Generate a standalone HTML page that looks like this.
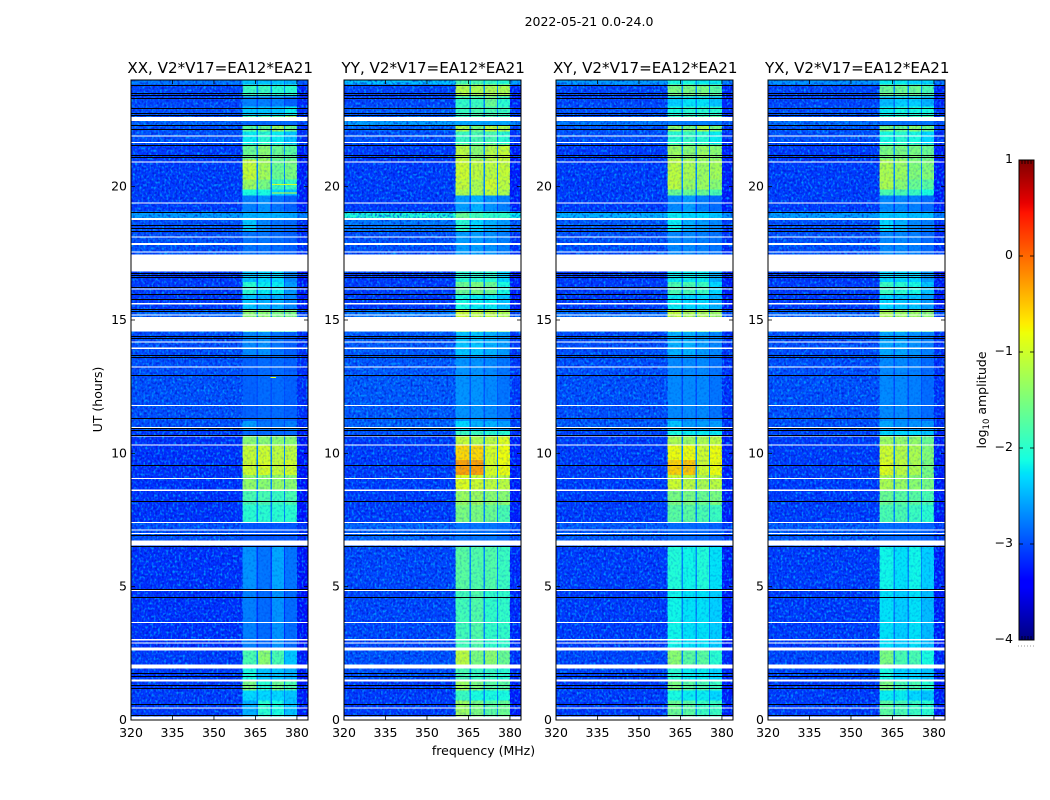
<!DOCTYPE html>
<html lang="en">
<head>
<meta charset="utf-8">
<title>2022-05-21 0.0-24.0</title>
<style>
html,body{margin:0;padding:0;background:#fff;width:1050px;height:800px;overflow:hidden}
svg{display:block}
text{font-family:"DejaVu Sans","Liberation Sans",sans-serif;fill:#000}
</style>
</head>
<body>
<svg id="figure" xmlns="http://www.w3.org/2000/svg" width="1050" height="800" viewBox="0 0 1050 800">
  <defs>
    <filter id="grain-light" x="0" y="0" width="100%" height="100%" color-interpolation-filters="sRGB">
      <feTurbulence type="fractalNoise" baseFrequency="0.48 0.38" numOctaves="1" seed="3"/>
      <feColorMatrix type="matrix" values="0 0 0 0 0  0 0 0 0 0.66  0 0 0 0 1  3.4 0 0 0 -1.62"/>
    </filter>
    <filter id="grain-dark" x="0" y="0" width="100%" height="100%" color-interpolation-filters="sRGB">
      <feTurbulence type="fractalNoise" baseFrequency="0.45 0.4" numOctaves="1" seed="11"/>
      <feColorMatrix type="matrix" values="0 0 0 0 0  0 0 0 0 0  0 0 0 0 0.75  3.4 0 0 0 -1.6"/>
    </filter>
  </defs>
  <text x="589" y="26" font-size="12.5" text-anchor="middle">2022-05-21 0.0-24.0</text>
  <text x="483.5" y="755" font-size="12.5" text-anchor="middle">frequency (MHz)</text>
  <text transform="translate(102,399.5) rotate(-90)" font-size="12.5" text-anchor="middle">UT (hours)</text>
  <text transform="translate(986,400) rotate(-90)" font-size="12.5" text-anchor="middle">log<tspan font-size="8.5" dy="3">10</tspan><tspan dy="-3"> amplitude</tspan></text>
  <g id="panels"></g>
  <g id="colorbar"></g>
</svg>
<script>
// Axis tick values
const freqTicks = [320, 335, 350, 365, 380];
const hourTicks = [0, 5, 10, 15, 20];
const colorbarTicks = [-4, -3, -2, -1, 0, 1];
const colorbarTickLabels = ['\u22124', '\u22123', '\u22122', '\u22121', '0', '1'];

// Frequency band edges in MHz: background, band, gap, band, gap, band, gap, band, upper edge
const freqEdges = [320, 360.4, 365.3, 365.9, 370.4, 371, 375.3, 375.7, 380, 384];

// Time row edges in hours, ascending
const rowEdges = [0.13,0.73,1.11,1.48,1.93,2.61,2.72,4.86,6.52,7.42,8.06,8.62,9.18,9.75,10.31,10.65,10.87,11.21,13.65,14.55,15.12,15.38,15.94,16.43,16.81,17.45,18.31,18.76,19.06,19.66,19.89,20.26,21.01,21.58,21.91,22.06,22.29,22.48,22.67,23.00,23.38,23.83,24];

// log10 amplitude for each time row: [background, band1, band2, band3, band4]
const xxLevels = [
[-3.1,-2.5,-2.0,-2.1,-2.4],[-3.1,-2.3,-2.3,-2.3,-2.4],[-3.1,-1.5,-2.0,-1.6,-1.8],[-3.1,-2.1,-2.4,-2.4,-2.5],
[-3.1,-1.8,-1.4,-1.8,-2.4],[-3.0,-2.5,-2.5,-2.5,-2.5],[-3.15,-2.75,-2.85,-2.65,-2.85],[-3.15,-2.65,-2.8,-2.55,-2.8],
[-3.0,-2.95,-2.95,-2.95,-2.95],[-3.15,-2.0,-2.0,-2.0,-2.0],[-3.15,-1.8,-1.8,-1.9,-1.8],[-3.15,-1.35,-1.4,-1.35,-1.4],
[-3.15,-1.0,-0.95,-1.05,-1.0],[-3.15,-1.05,-1.0,-1.1,-1.1],[-3.15,-1.4,-1.4,-1.4,-1.4],[-3.1,-2.85,-2.85,-2.85,-2.85],
[-3.0,-2.6,-2.8,-2.8,-2.75],[-3.0,-2.9,-2.85,-2.85,-2.9],[-3.0,-2.7,-2.65,-2.8,-2.9],[-2.9,-1.9,-1.9,-1.9,-1.9],
[-2.9,-1.4,-1.4,-1.5,-1.5],[-3.1,-2.4,-2.5,-2.5,-2.7],[-3.1,-2.0,-2.2,-2.2,-2.6],[-3.1,-2.4,-2.3,-2.3,-2.7],
[-3.0,-2.8,-2.8,-2.8,-2.8],[-3.0,-2.8,-2.8,-2.85,-2.9],[-3.0,-2.4,-2.7,-2.8,-2.85],[-2.6,-2.5,-2.5,-2.5,-2.55],
[-3.1,-2.75,-2.65,-2.8,-2.9],[-3.1,-2.1,-2.1,-2.3,-2.4],[-3.1,-1.3,-1.5,-1.9,-1.9],[-3.1,-1.05,-1.25,-1.6,-1.5],
[-3.1,-1.6,-1.4,-1.6,-1.7],[-3.0,-2.2,-2.0,-2.2,-2.4],[-3.0,-2.2,-2.0,-2.2,-2.4],[-3.0,-1.7,-1.6,-1.3,-1.6],
[-2.9,-2.85,-2.85,-2.85,-2.85],[-3.0,-1.9,-1.8,-1.8,-1.4],[-3.0,-2.4,-2.4,-2.4,-2.2],[-3.05,-2.75,-2.75,-2.75,-2.9],
[-3.05,-1.9,-1.9,-2.0,-2.0],[-2.8,-2.4,-2.4,-2.4,-2.5]
];
const yyLevels = [
[-3.1,-1.3,-1.5,-1.7,-1.6],[-3.1,-1.9,-2.1,-2.1,-2.1],[-3.1,-1.3,-1.5,-1.7,-1.7],[-3.0,-1.8,-1.9,-1.9,-2.0],
[-3.0,-1.1,-1.5,-1.4,-1.6],[-3.0,-2.0,-2.0,-2.0,-2.0],[-3.05,-1.85,-1.75,-1.95,-1.95],[-3.05,-1.7,-1.75,-1.75,-1.9],
[-2.9,-2.8,-2.8,-2.8,-2.85],[-3.1,-1.5,-1.5,-1.6,-1.8],[-3.1,-1.3,-1.3,-1.4,-1.4],[-3.1,-0.9,-1.0,-1.1,-1.1],
[-3.1,-0.3,-0.3,-0.95,-0.8],[-3.1,-0.6,-0.6,-0.95,-0.8],[-3.1,-1.05,-1.2,-1.1,-0.9],[-3.0,-1.9,-1.9,-2.0,-2.0],
[-2.9,-2.3,-2.5,-2.5,-2.6],[-2.95,-2.65,-2.65,-2.7,-2.8],[-2.95,-2.4,-2.4,-2.5,-2.6],[-2.8,-1.6,-1.6,-1.6,-1.6],
[-2.8,-1.0,-1.1,-1.1,-1.2],[-3.1,-2.1,-2.2,-2.2,-2.4],[-3.1,-1.6,-1.5,-1.6,-2.1],[-3.1,-2.0,-2.0,-2.0,-2.3],
[-3.0,-2.6,-2.6,-2.6,-2.6],[-3.0,-2.6,-2.6,-2.65,-2.75],[-2.8,-2.0,-2.3,-2.5,-2.6],[-2.05,-1.6,-1.85,-1.95,-1.95],
[-3.1,-2.6,-2.5,-2.65,-2.75],[-3.1,-1.2,-1.2,-1.1,-1.2],[-3.1,-1.05,-1.2,-1.0,-1.1],[-3.1,-1.0,-1.1,-1.1,-1.05],
[-3.1,-1.1,-1.4,-1.15,-1.05],[-3.0,-1.9,-1.8,-1.8,-2.0],[-3.0,-1.9,-1.8,-1.8,-2.0],[-2.9,-1.2,-1.5,-1.1,-1.2],
[-2.6,-2.55,-2.55,-2.55,-2.55],[-2.95,-1.9,-1.8,-1.8,-1.9],[-2.95,-1.9,-1.8,-1.8,-1.9],[-3.05,-1.95,-1.9,-1.6,-2.0],
[-3.05,-1.15,-1.2,-1.2,-1.2],[-2.4,-1.8,-1.8,-1.9,-2.0]
];
const xyLevels = [
[-3.1,-1.6,-1.7,-1.9,-1.9],[-3.1,-2.1,-2.2,-2.2,-2.3],[-3.1,-1.5,-1.7,-1.8,-1.9],[-3.05,-2.0,-2.2,-2.2,-2.3],
[-3.05,-1.4,-1.7,-1.7,-2.0],[-3.0,-2.2,-2.2,-2.2,-2.2],[-3.1,-2.15,-2.25,-2.25,-2.35],[-3.1,-2.05,-2.15,-2.05,-2.25],
[-2.95,-2.85,-2.85,-2.85,-2.9],[-3.1,-1.7,-1.7,-1.8,-1.9],[-3.1,-1.5,-1.5,-1.6,-1.5],[-3.1,-1.0,-1.1,-1.2,-1.1],
[-3.1,-0.55,-0.5,-1.0,-0.8],[-3.1,-0.8,-0.8,-1.0,-0.8],[-3.1,-1.2,-1.3,-1.2,-1.1],[-3.05,-2.1,-2.2,-2.2,-2.2],
[-2.95,-2.4,-2.6,-2.6,-2.6],[-3.0,-2.7,-2.7,-2.7,-2.8],[-3.0,-2.5,-2.5,-2.6,-2.7],[-2.85,-1.7,-1.7,-1.7,-1.7],
[-2.85,-1.05,-1.2,-1.2,-1.3],[-3.1,-2.2,-2.3,-2.3,-2.5],[-3.1,-1.8,-1.8,-1.9,-2.3],[-3.1,-2.2,-2.2,-2.2,-2.5],
[-3.0,-2.7,-2.7,-2.7,-2.7],[-3.0,-2.7,-2.7,-2.75,-2.8],[-2.95,-2.2,-2.5,-2.6,-2.7],[-2.5,-2.2,-2.3,-2.3,-2.4],
[-3.1,-2.7,-2.6,-2.75,-2.85],[-3.1,-1.6,-1.6,-1.6,-1.8],[-3.1,-1.1,-1.3,-1.3,-1.4],[-3.1,-1.1,-1.2,-1.3,-1.25],
[-3.1,-1.3,-1.4,-1.3,-1.4],[-3.0,-2.0,-1.9,-2.0,-2.2],[-3.0,-2.0,-1.9,-2.0,-2.2],[-2.95,-1.4,-1.5,-1.2,-1.5],
[-2.8,-2.75,-2.75,-2.75,-2.75],[-3.0,-1.9,-1.8,-1.8,-1.7],[-3.0,-2.1,-2.0,-2.0,-2.0],[-3.05,-2.35,-2.25,-2.25,-2.4],
[-3.05,-1.5,-1.5,-1.5,-1.7],[-2.6,-2.1,-2.1,-2.2,-2.2]
];
const yxLevels = [
[-3.1,-1.7,-1.8,-1.9,-2.0],[-3.1,-2.2,-2.2,-2.3,-2.4],[-3.1,-1.5,-1.8,-1.8,-2.0],[-3.05,-2.1,-2.3,-2.3,-2.4],
[-3.05,-1.5,-1.8,-1.8,-2.1],[-3.0,-2.3,-2.3,-2.3,-2.3],[-3.1,-2.25,-2.35,-2.25,-2.45],[-3.1,-2.15,-2.25,-2.15,-2.35],
[-2.95,-2.85,-2.85,-2.85,-2.9],[-3.1,-1.8,-1.8,-1.9,-2.0],[-3.1,-1.6,-1.7,-1.7,-1.8],[-3.1,-1.2,-1.3,-1.4,-1.5],
[-3.1,-0.9,-1.1,-1.2,-1.5],[-3.1,-1.0,-1.15,-1.2,-1.45],[-3.1,-1.3,-1.35,-1.35,-1.6],[-3.05,-2.3,-2.3,-2.3,-2.4],
[-3.0,-2.55,-2.65,-2.65,-2.65],[-3.0,-2.7,-2.7,-2.75,-2.85],[-3.0,-2.55,-2.55,-2.65,-2.75],[-2.9,-1.8,-1.8,-1.8,-1.8],
[-2.9,-1.2,-1.3,-1.3,-1.4],[-3.1,-2.3,-2.4,-2.4,-2.6],[-3.1,-1.9,-2.0,-2.1,-2.4],[-3.1,-2.3,-2.3,-2.3,-2.6],
[-3.0,-2.75,-2.75,-2.75,-2.75],[-3.0,-2.7,-2.7,-2.75,-2.85],[-3.0,-2.3,-2.5,-2.7,-2.75],[-2.6,-2.4,-2.4,-2.45,-2.45],
[-3.1,-2.7,-2.7,-2.75,-2.85],[-3.1,-1.8,-1.8,-1.9,-2.1],[-3.1,-1.2,-1.4,-1.6,-1.7],[-3.1,-1.2,-1.3,-1.45,-1.45],
[-3.1,-1.5,-1.5,-1.5,-1.6],[-3.0,-2.1,-2.0,-2.1,-2.3],[-3.0,-2.1,-2.0,-2.1,-2.3],[-2.95,-1.5,-1.6,-1.4,-1.6],
[-2.85,-2.8,-2.8,-2.8,-2.8],[-3.0,-2.0,-1.9,-1.9,-1.8],[-3.0,-2.2,-2.1,-2.1,-2.1],[-3.05,-2.45,-2.35,-2.35,-2.5],
[-3.05,-1.6,-1.6,-1.6,-1.8],[-2.65,-2.2,-2.2,-2.3,-2.3]
];

// Flagged (empty) time ranges in hours: [start, end]
const emptyRanges = [[0,0.13],[0.43,0.47],[1.45,1.52],[1.93,2.08],[2.61,2.72],[2.87,2.91],[2.99,3.03],[3.63,3.67],[4.83,4.87],[6.55,6.74],[6.98,7.02],[7.11,7.15],[7.39,7.43],[8.59,8.65],[9.04,9.08],[10.29,10.33],[10.63,10.67],[10.95,10.99],[11.78,11.82],[13.21,13.25],[13.92,13.96],[14.15,14.19],[14.57,15.12],[15.17,15.21],[15.59,15.63],[16.15,16.19],[16.82,17.45],[17.53,17.57],[17.82,17.89],[18.09,18.13],[18.75,18.82],[19.37,19.41],[20.91,20.95],[21.64,21.68],[21.88,21.92],[22.46,22.61]];
// Zero-amplitude (black) time rows, centre hour
const zeroRows = [0.20,0.61,1.20,1.30,1.65,1.75,4.62,4.90,6.53,6.93,8.21,9.58,10.69,10.87,10.94,11.31,12.94,13.63,13.69,14.32,14.40,15.35,15.43,15.78,15.97,16.23,16.61,16.69,16.78,18.35,18.45,18.58,19.05,21.13,21.20,21.57,22.17,22.32,22.68,22.77,22.96,23.33,23.42,23.52,23.82];

// Short interference streaks on the XX panel: [hour, start MHz, end MHz, log10 amplitude]
const xxStreaks = [[20.08,370.9,380,-1.0],[19.76,370.9,380,-1.0],[12.85,370.5,372.5,-0.9]];

// Panel titles
const panelTitles = ['XX, V2*V17=EA12*EA21', 'YY, V2*V17=EA12*EA21', 'XY, V2*V17=EA12*EA21', 'YX, V2*V17=EA12*EA21'];
const panelNames = ['xx', 'yy', 'xy', 'yx'];
const panelLevels = [xxLevels, yyLevels, xyLevels, yxLevels];
const panelLefts = [131, 344, 556, 768];

const SVG_NS = 'http://www.w3.org/2000/svg';
const PLOT_W = 177, PLOT_TOP = 80, PLOT_H = 640;
const FREQ_MIN = 320, FREQ_MAX = 384, HOUR_MAX = 24;
const xScale = (left, f) => left + (f - FREQ_MIN) / (FREQ_MAX - FREQ_MIN) * PLOT_W;
const yScale = h => PLOT_TOP + PLOT_H - h / HOUR_MAX * PLOT_H;
const cbarX = 1019, cbarW = 15, cbarTop = 160, cbarH = 480;
const cbarY = v => cbarTop + (1 - v) / 5 * cbarH;

function interp(points, t) {
  for (let i = 1; i < points.length; i++) {
    if (t <= points[i][0]) {
      const a = points[i - 1], b = points[i];
      return a[1] + (b[1] - a[1]) * (t - a[0]) / (b[0] - a[0]);
    }
  }
  return points[points.length - 1][1];
}
const jetR = [[0,0],[.35,0],[.66,1],[.89,1],[1,.5]];
const jetG = [[0,0],[.125,0],[.375,1],[.64,1],[.91,0],[1,0]];
const jetB = [[0,.5],[.11,1],[.34,1],[.65,0],[1,0]];
function jet(v) {
  const t = Math.max(0, Math.min(1, (v + 4) / 5));
  const c = p => Math.round(interp(p, t) * 255);
  return 'rgb(' + c(jetR) + ',' + c(jetG) + ',' + c(jetB) + ')';
}
function make(tag, parent) {
  const el = document.createElementNS(SVG_NS, tag);
  parent.appendChild(el);
  return el;
}
function rect(parent, x, y, w, h, fill) {
  const r = make('rect', parent);
  r.setAttribute('x', x);
  r.setAttribute('y', y);
  r.setAttribute('width', w);
  r.setAttribute('height', h);
  r.setAttribute('fill', fill);
  r.setAttribute('shape-rendering', 'crispEdges');
  return r;
}
function line(parent, x1, y1, x2, y2, width) {
  const l = make('line', parent);
  l.setAttribute('x1', x1);
  l.setAttribute('y1', y1);
  l.setAttribute('x2', x2);
  l.setAttribute('y2', y2);
  l.setAttribute('stroke', '#000');
  l.setAttribute('stroke-width', width);
  return l;
}
function label(parent, x, y, anchor, str) {
  const t = make('text', parent);
  t.setAttribute('x', x);
  t.setAttribute('y', y);
  t.setAttribute('font-size', '12.5');
  t.setAttribute('text-anchor', anchor);
  t.textContent = str;
  return t;
}

// Value drawn in each of the nine frequency columns for one time row
function columnValues(row) {
  const weakest = Math.min(row[1], row[2], row[3], row[4]);
  const g = Math.max(row[0], Math.min(weakest - 0.3, -2.7));
  return [row[0], row[1], g, row[2], g, row[3], g, row[4], row[0] - 0.15];
}

const panelsRoot = document.getElementById('panels');
panelLefts.forEach((left, p) => {
  const name = panelNames[p];
  const g = make('g', panelsRoot);
  
  

  // heatmap cells
  const heat = make('g', g);
  
  
  panelLevels[p].forEach((row, r) => {
    const yTop = yScale(rowEdges[r + 1]);
    const yBottom = yScale(rowEdges[r]);
    columnValues(row).forEach((v, c) => {
      const x0 = xScale(left, freqEdges[c]);
      const x1 = xScale(left, freqEdges[c + 1]);
      const cell = rect(heat, x0, yTop, x1 - x0, yBottom - yTop, jet(v));
      
      
    });
  });

  // speckle texture laid over the cells (visual grain only)
  const bandLeft = xScale(left, 360.4);
  const bandRight = xScale(left, 380);
  [['grain-light', 0.85, 0.18], ['grain-dark', 0.55, 0.18]].forEach(spec => {
    [[left, bandLeft - left, spec[1]], [bandLeft, bandRight - bandLeft, spec[2]], [bandRight, left + PLOT_W - bandRight, spec[1]]].forEach(part => {
      const gr = rect(g, part[0], PLOT_TOP, part[1], PLOT_H, '#000');
      gr.setAttribute('filter', 'url(#' + spec[0] + ')');
      gr.setAttribute('opacity', part[2]);
      
      
    });
  });

  if (name === 'xx') {
    xxStreaks.forEach(s => {
      const st = rect(g, xScale(left, s[1]), yScale(s[0]) - 0.5, xScale(left, s[2]) - xScale(left, s[1]), 1, jet(s[3]));
      
      
    });
  }

  // flagged rows
  emptyRanges.forEach(e => {
    const yA = yScale(e[1]);
    const h = Math.max(1, yScale(e[0]) - yA);
    const f = rect(g, left, yA, PLOT_W, h, '#fff');
    
    
  });
  zeroRows.forEach(h => {
    const z = rect(g, left, Math.round(yScale(h)), PLOT_W, 1, '#000');
    
    
  });

  // frame
  const frame = make('rect', g);
  frame.setAttribute('x', left);
  frame.setAttribute('y', PLOT_TOP);
  frame.setAttribute('width', PLOT_W);
  frame.setAttribute('height', PLOT_H);
  frame.setAttribute('fill', 'none');
  frame.setAttribute('stroke', '#000');
  frame.setAttribute('stroke-width', '1');
  
  

  // ticks and tick labels
  freqTicks.forEach(f => {
    const x = xScale(left, f);
    const t1 = line(g, x, PLOT_TOP + PLOT_H, x, PLOT_TOP + PLOT_H - 4, 0.8);
    
    
    const t2 = line(g, x, PLOT_TOP, x, PLOT_TOP + 4, 0.8);
    
    
    const lb = label(g, x, 737, 'middle', String(f));
    
    
  });
  hourTicks.forEach(h => {
    const y = yScale(h);
    const t1 = line(g, left, y, left + 4, y, 0.8);
    
    
    const t2 = line(g, left + PLOT_W, y, left + PLOT_W - 4, y, 0.8);
    
    
    const lb = label(g, left - 4, y + 4, 'end', String(h));
    
    
  });

  const title = make('text', g);
  title.setAttribute('x', left + PLOT_W / 2 + 0.7);
  title.setAttribute('y', 73);
  title.setAttribute('font-size', '15.1');
  title.setAttribute('text-anchor', 'middle');
  
  
  title.textContent = panelTitles[p];
});

// Colorbar
const cbarRoot = document.getElementById('colorbar');
for (let py = 0; py < cbarH; py++) {
  const v = 1 - (py + 0.5) / cbarH * 5;
  const s = rect(cbarRoot, cbarX, cbarTop + py, cbarW, 1, jet(v));
  
  
}
const cbFrame = make('rect', cbarRoot);
cbFrame.setAttribute('x', cbarX);
cbFrame.setAttribute('y', cbarTop);
cbFrame.setAttribute('width', cbarW);
cbFrame.setAttribute('height', cbarH);
cbFrame.setAttribute('fill', 'none');
cbFrame.setAttribute('stroke', '#000');
cbFrame.setAttribute('stroke-width', '1');


colorbarTicks.forEach((v, i) => {
  const y = cbarY(v);
  const a = line(cbarRoot, cbarX, y, cbarX + 4, y, 0.8);
  
  
  const b = line(cbarRoot, cbarX + cbarW, y, cbarX + cbarW - 4, y, 0.8);
  
  
  const lb = label(cbarRoot, 1013, y + 3, 'end', colorbarTickLabels[i]);
  
  
});
for (let i = 1; i <= 4; i++) {
  const x = cbarX + i * 3;
  const top = line(cbarRoot, x, cbarTop, x, cbarTop + 4, 0.8);
  
  
  const bottom = line(cbarRoot, x, cbarTop + cbarH, x, cbarTop + cbarH - 4, 0.8);
  
  
}
const dots = line(cbarRoot, 1018, 646, 1035, 646, 1);
dots.setAttribute('stroke', '#999');
dots.setAttribute('stroke-dasharray', '1 2');


</script>
</body>
</html>
